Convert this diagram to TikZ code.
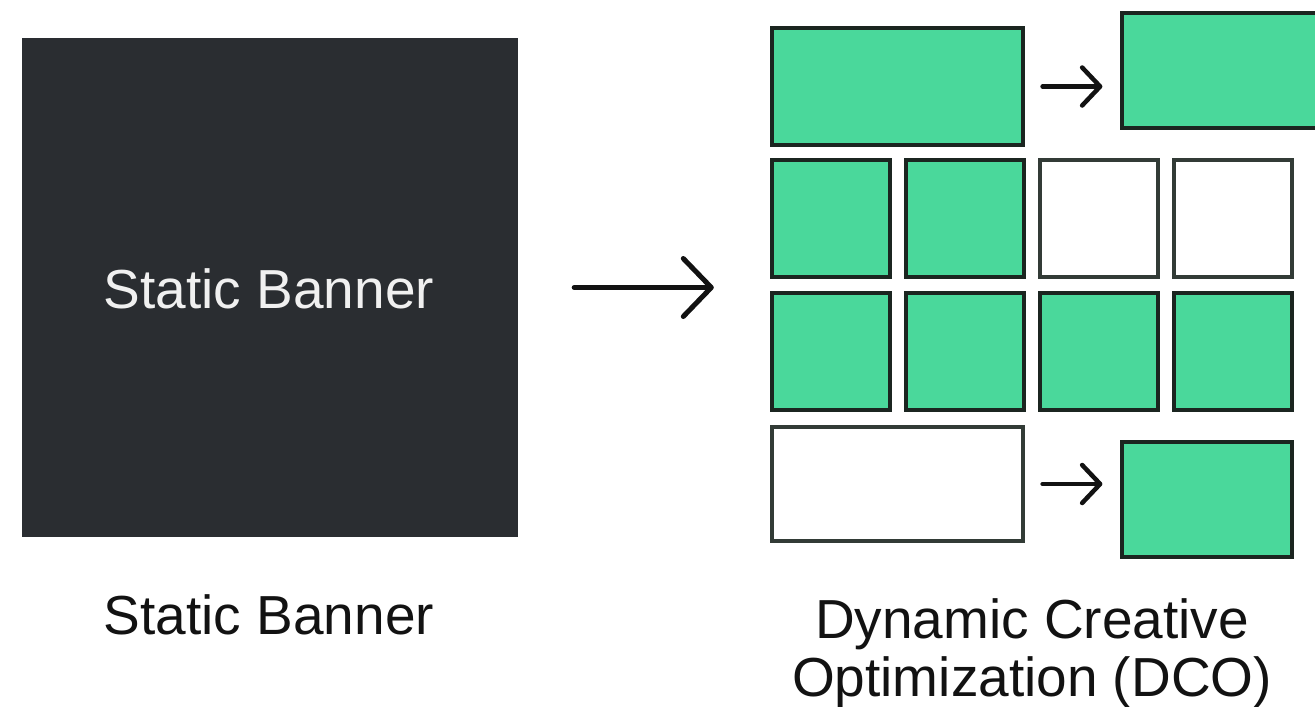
\documentclass[tikz,border=0pt]{standalone}
\usepackage{fontspec}
\setmainfont{Liberation Sans}
\usetikzlibrary{arrows.meta}
\definecolor{darkbg}{HTML}{2A2D31}
\definecolor{dcogreen}{HTML}{4AD89B}
\definecolor{edge}{HTML}{1B2520}
\definecolor{ink}{HTML}{121212}
\tikzset{
  gbox/.style={draw=edge, line width=3.2pt, fill=dcogreen, inner sep=0pt},
  wbox/.style={draw=edge!90!white, line width=3.2pt, fill=white, inner sep=0pt},
  bigtxt/.style={font=\fontsize{55}{60}\selectfont, inner sep=0pt, anchor=base, align=center},
  bigarrow/.style={draw=ink, line width=5pt, line cap=round, line join=round, -{Straight Barb[length=28pt,width=58pt,line width=5pt,round]}},
  smallarrow/.style={draw=ink, line width=4.5pt, line cap=round, line join=round, -{Straight Barb[length=18pt,width=38pt,line width=4.5pt,round]}}
}
\begin{document}
\begin{tikzpicture}[x=1pt,y=-1pt]
\useasboundingbox[fill=white] (0,0) rectangle (1315,707);
% static banner
\node[fill=darkbg, minimum width=496pt, minimum height=499pt, inner sep=0pt] (banner) at (270,287.5) {};
\node[bigtxt, text=white!94!black] (bannertxt) at (269,308) {Static Banner};
\node[bigtxt, text=ink] (leftlabel) at (269,634) {Static Banner};
% grid
\node[gbox, minimum width=251pt, minimum height=117pt] (r1a) at (897.5,86.5) {};
\node[gbox, minimum width=200pt, minimum height=115pt] (r1b) at (1222,70.5) {};
\foreach \c/\x in {a/831, b/965, c/1099, d/1233}{
  \node[minimum width=118pt, minimum height=117pt] (r2\c) at (\x,218.5) {};
  \node[gbox, minimum width=118pt, minimum height=117pt] (r3\c) at (\x,351.5) {};
}
\node[gbox, minimum width=118pt, minimum height=117pt] at (r2a) {};
\node[gbox, minimum width=118pt, minimum height=117pt] at (r2b) {};
\node[wbox, minimum width=118pt, minimum height=117pt] at (r2c) {};
\node[wbox, minimum width=118pt, minimum height=117pt] at (r2d) {};
\node[wbox, minimum width=251pt, minimum height=114pt] (r4a) at (897.5,484) {};
\node[gbox, minimum width=170pt, minimum height=115pt] (r4b) at (1207,499.5) {};
% arrows
\draw[bigarrow, shorten <=56pt, shorten >=58pt] (banner.east) -- (banner.east -| r2a.west);
\draw[smallarrow, shorten <=18pt, shorten >=18pt] (r1a.east) -- (r1a.east -| r1b.west);
\draw[smallarrow, shorten <=18pt, shorten >=18pt] (r4a.east) -- (r4a.east -| r4b.west);
% label
\node[bigtxt, text=ink] (dcolabel) at (1032,638) {Dynamic Creative};
\node[bigtxt, text=ink] (dcolabel2) at (1032,696) {Optimization (DCO)};
\end{tikzpicture}
\end{document}
